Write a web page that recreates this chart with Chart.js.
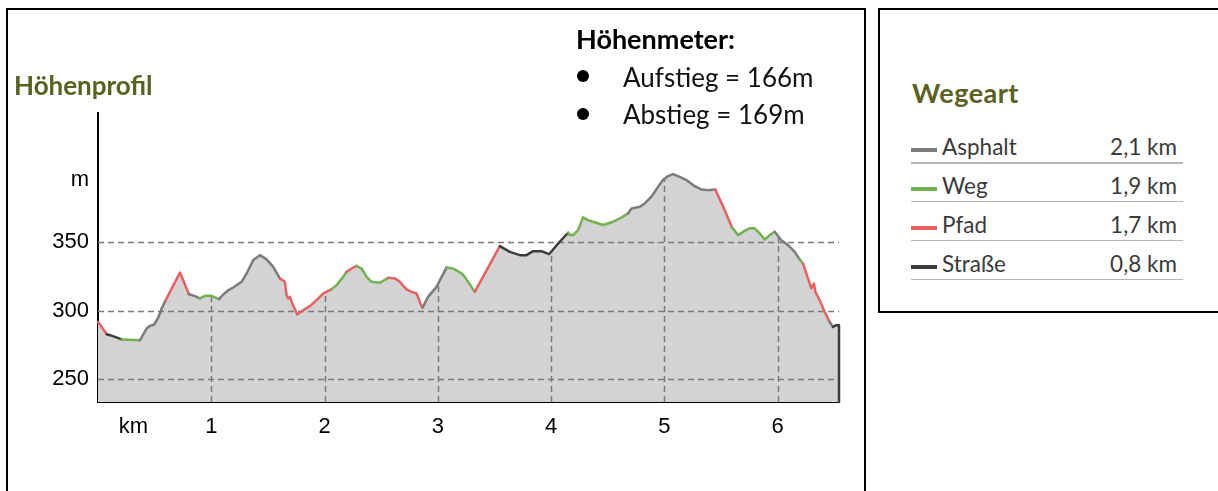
<!DOCTYPE html>
<html><head><meta charset="utf-8">
<script src="https://cdn.jsdelivr.net/npm/chart.js@4/dist/chart.umd.min.js"></script>
<style>
html,body{margin:0;padding:0;width:1218px;height:491px;overflow:hidden;background:#fff;position:relative;font-family:Lato,"Open Sans",sans-serif}
#main{position:absolute;left:6px;top:8px;width:860px;height:520px;border:2px solid #000;box-sizing:border-box}
#side{position:absolute;left:878px;top:8px;width:400px;height:305px;border:2px solid #000;box-sizing:border-box}
#cv{position:absolute;left:0;top:0}
.t{position:absolute;line-height:1;white-space:nowrap}
.olive{color:#5b6121;font-weight:bold}
.bullet{position:absolute;width:12px;height:12px;border-radius:50%;background:#000}
.sw{position:absolute;height:4px;width:26px}
.ul{position:absolute;height:1.5px;background:#b5b5b5;width:272px;left:911px}
.lt{position:absolute;line-height:1;font-size:22.5px;color:#3a3a3a;white-space:nowrap}
</style>
</head><body>
<div id="main"></div>
<div id="side"></div>
<canvas id="cv" width="866" height="491"></canvas>
<div class="t olive" style="left:14px;top:72px;font-size:26px">Höhenprofil</div>
<div class="t" style="left:576px;top:25px;font-size:27px;font-weight:bold;color:#000">Höhenmeter:</div>
<div class="bullet" style="left:577px;top:70px"></div>
<div class="bullet" style="left:577px;top:108px"></div>
<div class="t" style="left:623px;top:64px;font-size:26px;color:#111">Aufstieg = 166m</div>
<div class="t" style="left:623px;top:101px;font-size:26px;color:#111">Abstieg = 169m</div>
<div class="t olive" style="left:912px;top:79px;font-size:27px;letter-spacing:0.5px">Wegeart</div>
<div id="legend"></div>
<script>
// distance along route (km)
const km = [0.000,0.077,0.106,0.150,0.209,0.371,0.430,0.459,0.497,0.532,0.562,0.598,0.724,0.803,0.856,0.900,0.944,1.004,1.068,1.106,
1.150,1.194,1.268,1.312,1.371,1.430,1.489,1.547,1.606,1.650,1.665,1.680,1.695,1.710,1.759,1.812,1.871,1.930,1.988,2.063,
2.107,2.165,2.195,2.239,2.283,2.327,2.372,2.416,2.489,2.562,2.621,2.665,2.724,2.769,2.813,2.857,2.866,2.915,2.989,3.078,
3.136,3.210,3.239,3.268,3.327,3.548,3.636,3.725,3.784,3.842,3.916,3.983,4.063,4.151,4.166,4.195,4.239,4.283,4.327,4.372,
4.460,4.548,4.607,4.681,4.711,4.784,4.828,4.887,4.945,4.989,5.034,5.078,5.137,5.196,5.269,5.328,5.386,5.451,5.533,5.598,
5.651,5.710,5.754,5.798,5.843,5.887,5.931,5.975,6.034,6.093,6.152,6.196,6.225,6.269,6.299,6.322,6.334,6.372,6.416,6.460,
6.490,6.520,6.543,6.543];
// elevation (m)
const elev = [291.8,282.8,282.1,280.9,279.0,278.5,287.0,288.9,289.9,295.0,301.5,307.6,327.7,311.9,310.5,308.8,310.7,310.7,308.3,311.7,
314.8,316.8,320.9,327.0,336.7,340.3,337.2,331.8,323.4,320.9,311.2,308.8,310.0,306.3,297.2,300.3,303.2,307.6,312.4,315.6,
318.5,324.5,328.2,330.6,332.5,330.6,324.5,320.9,320.2,323.8,323.4,320.9,315.4,313.6,312.4,303.2,302.3,310.0,317.2,331.4,
330.6,327.0,324.5,320.9,313.6,346.9,342.7,340.3,340.3,343.2,343.2,341.0,348.8,356.6,354.9,354.9,358.5,367.8,365.8,364.6,
362.2,364.6,367.0,370.7,374.3,375.5,377.9,382.8,390.0,394.9,397.8,399.3,397.3,394.9,390.5,388.1,387.6,388.1,373.1,360.5,
354.9,358.0,359.8,359.8,356.1,351.7,354.9,357.3,351.2,347.6,342.7,337.2,334.3,323.4,316.1,319.7,313.6,307.6,299.1,291.8,
288.1,289.4,289.4,233.5];
// surface of the segment starting at each point: A=Asphalt, W=Weg, P=Pfad, S=Straße
const surface = ['P','S','S','S','W','A','A','A','A','A','A','P','P','A','A','W','W','W','A','A',
'A','A','A','A','A','A','A','A','P','P','P','P','P','P','P','P','P','P','P','W',
'W','W','P','P','W','W','W','W','W','P','P','P','P','P','P','P','A','A','A','W',
'W','W','W','W','P','S','S','S','S','S','S','S','S','W','W','W','W','W','W','W',
'W','W','W','A','A','A','A','A','A','A','A','A','A','A','A','A','A','P','P','W',
'W','W','W','W','W','W','W','A','A','A','A','W','P','P','P','P','P','P','P','A',
'S','S','S','S'];
const wayKeys = ['A','W','P','S'];
const wayTypes = ['Asphalt','Weg','Pfad','Straße'];
const wayLengths = ['2,1 km','1,9 km','1,7 km','0,8 km'];
const wayColors = ['#7b7b7b','#6fb24f','#e8605f','#3c3c3c'];
const xTickValues = [0.313,1,2,3,4,5,6];
const xTickLabels = ['km','1','2','3','4','5','6'];
const yTickValues = [250,300,350,395];
const yTickLabels = ['250','300','350','m'];
const yGridValues = [250,300,350];
const xGridValues = [1,2,3,4,5,6];

const colorOf = k => wayColors[wayKeys.indexOf(k)];
const pts = km.map((k,i)=>({x:k,y:elev[i]}));

// legend box
const lg = document.getElementById('legend');
wayTypes.forEach((name,i)=>{
  const base = 156 + i*38.9;
  lg.insertAdjacentHTML('beforeend',
    `<div class="sw" style="left:911px;top:${base-8}px;background:${wayColors[i]}"></div>`+
    `<div class="lt" style="left:942px;top:${base-20}px">${name}</div>`+
    `<div class="lt" style="right:${1218-1177}px;top:${base-20}px">${wayLengths[i]}</div>`+
    `<div class="ul" style="top:${base+6}px"></div>`);
});

const dashGrid = {
  id:'dashGrid',
  afterDatasetDraw(chart,args){
    if(args.index!==1) return;
    const {ctx,chartArea:a,scales:{x,y}} = chart;
    ctx.save();
    ctx.strokeStyle='#7a7a7a'; ctx.lineWidth=1.5; ctx.setLineDash([6,4]);
    yGridValues.forEach(v=>{const py=Math.round(y.getPixelForValue(v))+0.5;ctx.beginPath();ctx.moveTo(a.left,py);ctx.lineTo(a.right,py);ctx.stroke();});
    const d=args.meta.data;
    ctx.beginPath();
    ctx.moveTo(d[0].x,a.bottom);
    d.forEach(p=>ctx.lineTo(p.x,p.y));
    ctx.lineTo(d[d.length-1].x,a.bottom);
    ctx.closePath();
    ctx.clip();
    xGridValues.forEach(v=>{const px=Math.round(x.getPixelForValue(v))+0.5;ctx.beginPath();ctx.moveTo(px,a.bottom);ctx.lineTo(px,a.top);ctx.stroke();});
    ctx.restore();
  }
};

const tickFont = {family:'"Liberation Sans", Arial, sans-serif', size:22};
new Chart(document.getElementById('cv'),{
  type:'line',
  data:{datasets:[
    {data:pts, order:0, borderWidth:2.5, pointRadius:0, fill:false, tension:0,
     borderCapStyle:'round', borderJoinStyle:'round', clip:false,
     segment:{borderColor:c=>colorOf(surface[c.p0DataIndex])}},
    {data:pts, order:1, borderWidth:0, pointRadius:0, fill:'start', backgroundColor:'#d3d3d3', tension:0}
  ]},
  options:{
    responsive:false, animation:false, events:[],
    layout:{padding:{left:0,top:113,right:27,bottom:0}},
    plugins:{legend:{display:false},tooltip:{enabled:false}},
    scales:{
      x:{type:'linear',min:0,max:6.543,
        grid:{display:false,drawTicks:false},
        border:{display:true,color:'#000',width:2},
        afterBuildTicks:s=>{s.ticks=xTickValues.map(v=>({value:v}));},
        afterFit:s=>{s.height=89;},
        ticks:{color:'#000',font:tickFont,padding:12,maxRotation:0,autoSkip:false,callback:(v,i)=>xTickLabels[i]}},
      y:{type:'linear',min:233.5,max:443.7,
        grid:{display:false,drawTicks:false},
        border:{display:true,color:'#000',width:2},
        afterBuildTicks:s=>{s.ticks=yTickValues.map(v=>({value:v}));},
        afterFit:s=>{s.width=98;},
        ticks:{color:'#000',font:tickFont,padding:9,autoSkip:false,callback:(v,i)=>yTickLabels[i]}}
    }
  },
  plugins:[dashGrid]
});
</script>
</body></html>
